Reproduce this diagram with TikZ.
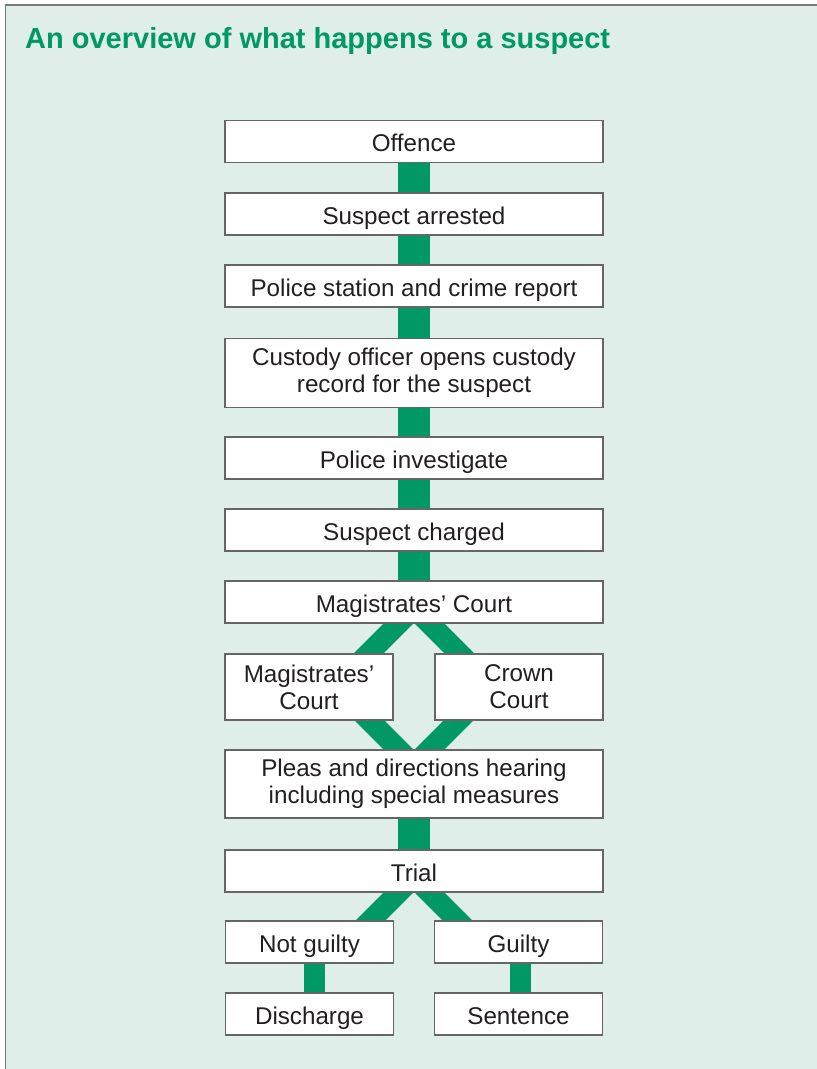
\documentclass[tikz,border=0pt]{standalone}
\usepackage{fontspec}
\setmainfont{Liberation Sans}
\usetikzlibrary{calc}
\definecolor{panelbg}{HTML}{DFEEE8}
\definecolor{panelframe}{HTML}{7A7A7A}
\definecolor{linkgreen}{HTML}{009966}
\definecolor{boxline}{HTML}{666666}
\definecolor{inktext}{HTML}{231F20}
\pgfdeclarelayer{panel}
\pgfdeclarelayer{links}
\pgfsetlayers{panel,links,main}
\tikzset{
  stage/.style={draw=boxline, line width=1.2pt, fill=white, text=inktext,
    inner sep=0pt, align=center, font=\fontsize{24.2}{26.8}\selectfont},
  oneline/.style={text height=20.6pt, text depth=0pt},
  widebox/.style={stage, minimum width=378pt},
  halfbox/.style={stage, minimum width=168pt},
  trunk/.style={linkgreen, line width=32pt},
  branch/.style={linkgreen, line width=21pt},
  stub/.style={linkgreen, line width=21pt},
}
\begin{document}
\begin{tikzpicture}[x=1pt,y=-1pt]
\useasboundingbox (0,0) rectangle (817,1069);
\clip (0,0) rectangle (817,1069);

% title
\node[anchor=base west, inner sep=0pt, text=linkgreen,
      font=\fontsize{29}{32}\selectfont\bfseries] (title) at (25,48.5)
      {An overview of what happens to a suspect};

% main column
\node[widebox, oneline, minimum height=42pt] (off) at (414,141.5) {Offence};
\node[widebox, oneline, minimum height=42pt] (arr) at (414,214) {Suspect arrested};
\node[widebox, oneline, minimum height=42pt] (pol) at (414,286) {Police station and crime report};
\node[widebox, minimum height=69pt] (cus) at (414,373) {Custody officer opens custody\\record for the suspect};
\node[widebox, oneline, minimum height=42pt] (inv) at (414,458) {Police investigate};
\node[widebox, oneline, minimum height=42pt] (chg) at (414,530) {Suspect charged};
\node[widebox, oneline, minimum height=42pt] (mag) at (414,602) {Magistrates’ Court};
\node[halfbox, minimum height=66pt] (mc) at (309,687) {Magistrates’\\Court};
\node[halfbox, minimum height=66pt] (cc) at (519,687) {Crown\\Court};
\node[widebox, minimum height=68pt] (ple) at (414,784) {Pleas and directions hearing\\including special measures};
\node[widebox, oneline, minimum height=42pt] (tri) at (414,871) {Trial};
\node[halfbox, oneline, minimum height=42pt] (ng) at (309.5,942) {Not guilty};
\node[halfbox, oneline, minimum height=42pt] (gu) at (518.5,942) {Guilty};
\node[halfbox, oneline, minimum height=42pt] (dis) at (309.5,1014) {Discharge};
\node[halfbox, oneline, minimum height=42pt] (sen) at (518.5,1014) {Sentence};

% junction points of the branching links
\coordinate (magsplit) at (414,608);
\coordinate (mcin) at (344,678);
\coordinate (ccin) at (484,678);
\coordinate (plejoin) at (414,765);
\coordinate (mcout) at (349,700);
\coordinate (ccout) at (479,700);
\coordinate (trisplit) at (414,877);
\coordinate (ngin) at (356,935);
\coordinate (guin) at (472,935);
\coordinate (ngstub) at (314.5,942);
\coordinate (disstub) at (314.5,1014);
\coordinate (gustub) at (520,942);
\coordinate (senstub) at (520,1014);

\begin{pgfonlayer}{panel}
  \draw[panelframe, line width=1.6pt, fill=panelbg] (5.5,5) rectangle (830,1080);
\end{pgfonlayer}

\begin{pgfonlayer}{links}
  \draw[trunk] (off) -- (arr);
  \draw[trunk] (arr) -- (pol);
  \draw[trunk] (pol) -- (cus);
  \draw[trunk] (cus) -- (inv);
  \draw[trunk] (inv) -- (chg);
  \draw[trunk] (chg) -- (mag);
  \draw[trunk] (ple) -- (tri);
  \draw[branch] (magsplit) -- (mcin);
  \draw[branch] (magsplit) -- (ccin);
  \draw[branch] (mcout) -- (plejoin);
  \draw[branch] (ccout) -- (plejoin);
  \draw[branch] (trisplit) -- (ngin);
  \draw[branch] (trisplit) -- (guin);
  \draw[stub] (ngstub) -- (disstub);
  \draw[stub] (gustub) -- (senstub);
\end{pgfonlayer}
\end{tikzpicture}
\end{document}
